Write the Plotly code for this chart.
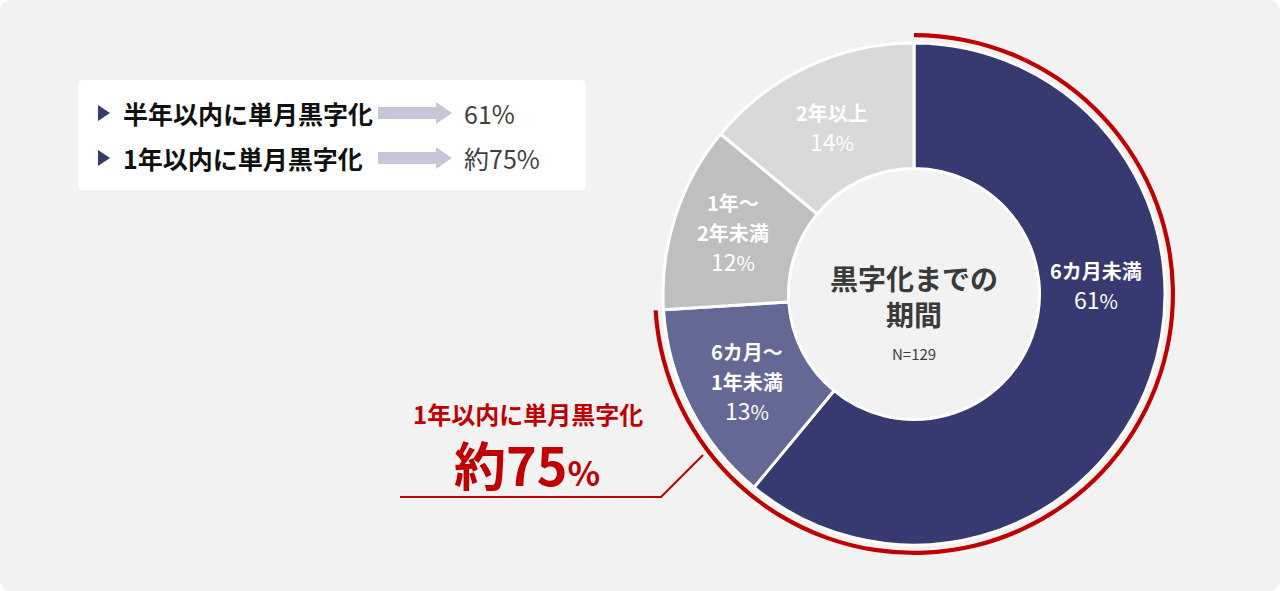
import plotly.graph_objects as go

# data
categories = ['6カ月未満', '6カ月～<br>1年未満', '1年～<br>2年未満', '2年以上']
shares = [61, 13, 12, 14]
slice_colors = ['#363a70', '#646894', '#bfbfbf', '#d9d9d9']
summary_labels = ['半年以内に単月黒字化', '1年以内に単月黒字化']
summary_values = ['61%', '約75%']
n_total = 129
center_title = '黒字化までの<br>期間'

W, H = 1280, 591
RED = '#c00000'
FONT = 'Noto Sans CJK JP'


def px(x, y):
    return x / W, 1 - y / H


def rounded_path(x0, y0, x1, y1, r):
    def p(x, y):
        a, b = px(x, y)
        return f'{a:.5f},{b:.5f}'
    pts = ['M' + p(x0 + r, y0),
           'L' + p(x1 - r, y0), 'Q' + p(x1, y0) + ' ' + p(x1, y0 + r),
           'L' + p(x1, y1 - r), 'Q' + p(x1, y1) + ' ' + p(x1 - r, y1),
           'L' + p(x0 + r, y1), 'Q' + p(x0, y1) + ' ' + p(x0, y1 - r),
           'L' + p(x0, y0 + r), 'Q' + p(x0, y0) + ' ' + p(x0 + r, y0)]
    return ' '.join(pts) + ' Z'


def poly_path(points):
    s = []
    for i, (x, y) in enumerate(points):
        a, b = px(x, y)
        s.append(('M' if i == 0 else 'L') + f'{a:.5f},{b:.5f}')
    return ' '.join(s) + ' Z'


def domain(cx, cy, r):
    return dict(x=[(cx - r) / W, (cx + r) / W], y=[1 - (cy + r) / H, 1 - (cy - r) / H])


cx, cy = 914, 294

fig = go.Figure()
fig.add_trace(go.Pie(
    values=shares, labels=categories, sort=False, direction='clockwise', rotation=0,
    hole=0.5, marker=dict(colors=slice_colors, line=dict(color='white', width=3)),
    textinfo='none', hoverinfo='skip', showlegend=False, domain=domain(cx, cy, 251)))

# red arc covering the share reached within one year
within_year = shares[0] + shares[1]
fig.add_trace(go.Pie(
    values=[within_year, 100 - within_year], sort=False, direction='clockwise', rotation=0,
    hole=0.984, marker=dict(colors=[RED, 'rgba(0,0,0,0)'], line=dict(width=0)),
    textinfo='none', hoverinfo='skip', showlegend=False, domain=domain(cx, cy, 261)))

shapes = [
    dict(type='path', xref='paper', yref='paper', path=rounded_path(0, 0, W, H, 12),
         fillcolor='#f2f2f2', line=dict(width=0), layer='below'),
    dict(type='path', xref='paper', yref='paper', path=rounded_path(78, 80, 586, 190, 6),
         fillcolor='white', line=dict(width=0), layer='below'),
]
for yy in [113, 158]:
    shapes.append(dict(type='path', xref='paper', yref='paper',
                       path=poly_path([(98, yy - 8), (110, yy), (98, yy + 8)]),
                       fillcolor='#363a70', line=dict(width=0), layer='below'))
    shapes.append(dict(type='path', xref='paper', yref='paper',
                       path=poly_path([(378, yy - 6), (436, yy - 6), (436, yy - 11), (452, yy),
                                       (436, yy + 11), (436, yy + 6), (378, yy + 6)]),
                       fillcolor='#c5c7d6', line=dict(width=0), layer='below'))

# callout line
x0, y0 = px(400, 497)
x1, y1 = px(661, 497)
x2, y2 = px(703, 455)
shapes.append(dict(type='path', xref='paper', yref='paper',
                   path=f'M{x0},{y0} L{x1},{y1} L{x2},{y2}',
                   line=dict(color=RED, width=2)))

annotations = []


def ann(x, y, text, size, color, xanchor='center', bold=False):
    a, b = px(x, y)
    annotations.append(dict(x=a, y=b, xref='paper', yref='paper', text=f'<b>{text}</b>' if bold else text,
                            showarrow=False, xanchor=xanchor, yanchor='middle',
                            font=dict(family=FONT, size=size, color=color)))


# slice labels
label_pos = [(1096, 286), (747, 382), (733, 233), (832, 128)]
for cat, v, (lx, ly) in zip(categories, shares, label_pos):
    parts = cat.split('<br>')
    txt = '<br>'.join(f"<span style='font-size:20px'><b>{p}</b></span>" for p in parts)
    txt += f"<br><span style='font-size:23px'>{v}<span style='font-size:20px'>%</span></span>"
    ann(lx, ly, txt, 23, 'white')

# center
ann(cx, 296, center_title, 28, '#3a3a3a', bold=True)
ann(cx, 353, f'N={n_total}', 15, '#404040')

# summary box
for (lab, val), yy in zip(zip(summary_labels, summary_values), [113, 158]):
    ann(121, yy, lab, 25, '#111111', xanchor='left', bold=True)
    ann(462, yy, val, 25, '#404040', xanchor='left')

# red callout text
ann(528, 413, summary_labels[1], 24, RED, bold=True)
big = summary_values[1].replace('%', "<span style='font-size:34px'>%</span>")
ann(527, 463, big, 52, RED, bold=True)

fig.update_layout(width=W, height=H, margin=dict(l=0, r=0, t=0, b=0),
                  paper_bgcolor='white', plot_bgcolor='white',
                  shapes=shapes, annotations=annotations)
fig.write_html('out.html', config={'displayModeBar': False},
               post_script="document.body.style.margin='0';")
